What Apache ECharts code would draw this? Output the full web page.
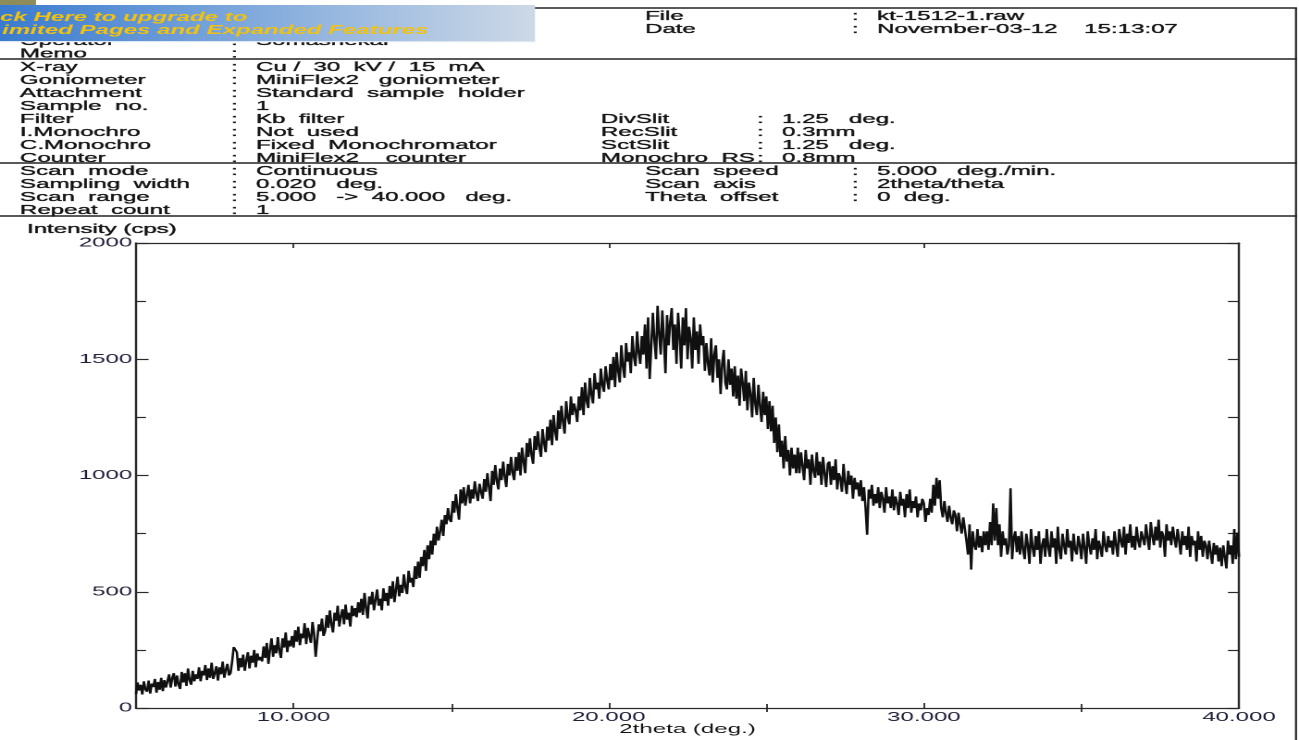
<!DOCTYPE html>
<html><head><meta charset="utf-8">
<script src="https://cdn.jsdelivr.net/npm/echarts@6/dist/echarts.min.js"></script>
<style>
html,body{margin:0;padding:0;background:#fff;overflow:hidden}
#wrap{width:1299px;height:740px;overflow:hidden;position:relative}
#c{width:702px;height:740px;transform:scaleX(1.850427);transform-origin:0 0}
</style></head>
<body><div id="wrap"><div id="c"></div></div>
<script>
// ---------------- data ----------------
const scanStart = 5;      // deg (2theta)
const scanStep = 0.05;    // deg per plotted reading
const intensity = [
 60,110,75,100,58,115,80,70,118,62,105,90,125,66,112,78,130,72,120,88,
 95,145,88,130,150,92,140,100,82,155,110,150,95,170,120,100,160,115,145,125,
 175,115,160,140,185,120,170,130,195,125,150,180,118,175,145,200,130,165,190,140,
 150,200,262,255,240,160,215,175,230,160,205,240,170,225,195,250,175,235,205,220,
 200,265,215,280,190,250,300,220,270,235,305,245,215,300,260,325,240,290,265,310,
 260,335,285,350,270,320,300,365,275,345,310,280,370,320,220,295,360,330,385,310,
 330,400,345,420,360,325,410,375,440,350,395,425,360,445,380,410,350,440,395,430,
 390,455,410,470,400,495,430,385,480,445,500,420,465,510,440,470,420,515,460,495,
 440,525,470,545,455,510,565,480,530,495,575,520,490,590,540,560,520,610,555,630,
 560,650,610,680,590,700,640,720,660,750,700,780,720,760,810,740,830,790,860,810,
 800,890,840,920,860,810,940,880,950,870,915,960,880,940,900,975,920,890,965,930,
 900,985,930,1010,950,890,1020,960,1045,975,940,1030,980,1060,995,950,1050,1000,1080,1010,
 980,1080,1020,1100,1000,1120,1060,1010,1140,1080,1160,1090,1050,1170,1110,1190,1120,1080,1200,1140,
 1100,1210,1150,1240,1130,1260,1190,1150,1280,1200,1300,1230,1180,1320,1250,1220,1340,1260,1310,1280,
 1230,1340,1280,1380,1260,1400,1320,1290,1420,1350,1310,1440,1370,1400,1330,1460,1390,1360,1470,1410,
 1370,1480,1410,1510,1380,1530,1450,1400,1560,1470,1420,1570,1490,1530,1440,1600,1510,1470,1620,1530,
 1480,1600,1520,1650,1460,1680,1415,1560,1700,1580,1500,1730,1610,1520,1710,1590,1440,1690,1560,1660,
 1720,1540,1650,1480,1700,1600,1460,1680,1560,1720,1500,1640,1590,1460,1680,1540,1620,1480,1650,1560,
 1600,1450,1570,1480,1430,1590,1400,1520,1560,1420,1500,1350,1480,1540,1400,1370,1500,1390,1460,1340,
 1470,1330,1430,1300,1460,1400,1320,1450,1280,1400,1350,1250,1420,1310,1260,1390,1300,1230,1360,1260,
 1340,1200,1320,1190,1300,1140,1250,1100,1220,1080,1150,1030,1170,1060,1110,1000,1120,1030,1090,1010,
 1120,1010,1100,1040,980,1110,1030,1070,960,1090,1020,990,1100,1000,1060,960,1080,1010,950,1050,
 1060,960,1040,980,1070,940,1010,990,930,1050,970,920,1020,960,1000,900,990,940,970,910,
 980,890,950,860,745,940,900,960,870,920,880,950,860,930,900,840,950,880,910,860,
 940,850,910,880,830,930,870,900,820,920,860,940,840,890,860,910,820,880,850,900,
 880,800,860,830,900,840,960,870,990,900,980,860,820,890,840,800,870,820,790,850,
 830,760,840,790,750,820,770,720,660,790,595,760,700,680,770,690,740,670,760,700,
 760,680,800,700,880,720,860,700,790,650,760,700,730,660,700,945,640,730,760,670,
 740,660,760,680,640,750,700,620,770,690,650,740,680,760,620,700,730,650,770,690,
 650,760,690,730,620,780,680,640,750,700,660,770,690,720,630,750,680,660,740,700,
 640,750,690,620,760,700,660,730,680,770,640,720,690,650,760,700,670,740,690,720,
 660,760,700,650,770,720,690,780,660,750,710,790,690,740,680,780,720,690,760,730,
 700,790,730,680,800,740,700,780,720,810,690,760,740,650,790,720,760,700,780,730,
 690,770,720,660,760,700,740,680,780,650,740,700,720,630,760,680,740,650,720,700,
 640,720,670,620,710,660,700,630,690,610,700,650,600,720,660,700,620,770,640,755,
 650
];
const xLabelTicks = [10, 20, 30, 40];
const xMinorTicks = [15, 25, 35];
const xTopTicks = [10, 20, 30];

const fileInfo = [['File', 'kt-1512-1.raw'], ['Date', 'November-03-12    15:13:07']];
const operatorInfo = [['Operator', 'Somashekar'], ['Memo', '']];
const instrumentInfo = [
  ['X-ray', 'Cu /  30  kV /  15  mA'],
  ['Goniometer', 'MiniFlex2   goniometer'],
  ['Attachment', 'Standard  sample  holder'],
  ['Sample  no.', '1'],
  ['Filter', 'Kb  filter'],
  ['I.Monochro', 'Not  used'],
  ['C.Monochro', 'Fixed  Monochromator'],
  ['Counter', 'MiniFlex2    counter']
];
const slitInfo = [['DivSlit', '1.25   deg.'], ['RecSlit', '0.3mm'], ['SctSlit', '1.25   deg.'], ['Monochro  RS', '0.8mm']];
const scanInfo = [['Scan  mode', 'Continuous'], ['Sampling  width', '0.020   deg.'], ['Scan  range', '5.000   ->  40.000   deg.'], ['Repeat  count', '1']];
const scanInfo2 = [['Scan  speed', '5.000   deg./min.'], ['Scan  axis', '2theta/theta'], ['Theta  offset', '0  deg.']];
const bannerLines = ['ck Here to upgrade to', 'imited Pages and Expanded Features'];
const yAxisTitle = 'Intensity (cps)';
const xAxisTitle = '2theta (deg.)';

// ---------------- layout ----------------
const S = 1299 / 702;               // horizontal stretch of the printout
const X = px => px / S;
const FF = '"Liberation Sans", Arial, Helvetica, sans-serif';
const FONT = '13px ' + FF;
const INK = '#141414';

const seriesData = intensity.map((v, i) => [+(scanStart + i * scanStep).toFixed(2), v]);

const graphics = [];
function txt(px, y, text) {
  graphics.push({
    type: 'text', x: X(px), y: y, silent: true, z: 10,
    style: { text: text, font: FONT, fill: INK, stroke: INK, lineWidth: 0.35,
             textVerticalAlign: 'middle', verticalAlign: 'middle' }
  });
}
function block(rows, xl, xc, xv, y0, dy) {
  rows.forEach((r, i) => {
    const y = y0 + i * dy;
    txt(xl, y, r[0]); txt(xc, y, ':'); if (r[1]) txt(xv, y, r[1]);
  });
}
block(fileInfo, 645, 852, 877, 16.5, 13);
block(operatorInfo, 20, 231, 256, 41.5, 12.5);
block(instrumentInfo, 20, 231, 256, 67.5, 13);
block(slitInfo, 601, 757, 782, 119.5, 13);
block(scanInfo, 20, 231, 256, 171.5, 13);
block(scanInfo2, 645, 852, 877, 171.5, 13);
txt(27, 229.5, yAxisTitle);

[8, 59, 163, 216].forEach(y => graphics.push({
  type: 'line', silent: true, z: 5,
  shape: { x1: 0, y1: y, x2: X(1297), y2: y },
  style: { stroke: '#222', lineWidth: 1.6 }
}));
graphics.push({ type: 'line', silent: true, z: 5,
  shape: { x1: X(1296), y1: 8, x2: X(1296), y2: 740 },
  style: { stroke: '#222', lineWidth: 1.1 } });

// PDF banner overlay
graphics.push({ type: 'rect', silent: true, z: 100,
  shape: { x: 0, y: 5, width: X(535), height: 37 },
  style: { fill: new echarts.graphic.LinearGradient(0, 0, 1, 0, [
    { offset: 0, color: '#3a7bd0' }, { offset: 0.45, color: '#7ea8dc' }, { offset: 1, color: '#cdd9e7' }]) } });
graphics.push({ type: 'rect', silent: true, z: 101,
  shape: { x: 0, y: 41, width: X(535), height: 1.2 }, style: { fill: '#dfe8f2' } });
graphics.push({ type: 'rect', silent: true, z: 101,
  shape: { x: 0, y: 0, width: X(36), height: 5 }, style: { fill: '#8e8c5a' } });
bannerLines.forEach((t, i) => graphics.push({
  type: 'text', silent: true, z: 102, x: X(i === 0 ? 0 : 2), y: 17.5 + i * 13,
  style: { text: t, font: 'italic bold 13px ' + FF, fill: '#f3c20f', textVerticalAlign: 'middle', verticalAlign: 'middle' }
}));

const axisLineStyle = { color: '#2a2a2a', width: 1.3 };
const labelStyle = { fontSize: 13, fontFamily: FF, color: '#1e1e38' };

const chart = echarts.init(document.getElementById('c'), null, { renderer: 'canvas', devicePixelRatio: 2 });
chart.setOption({
  animation: false,
  backgroundColor: '#fff',
  grid: { left: X(136), right: 702 - X(1239), top: 243, bottom: 32, containLabel: false, outerBoundsMode: 'none' },
  xAxis: [
    { type: 'value', min: 5, max: 40, interval: 5, position: 'bottom',
      axisLine: { show: true, onZero: false, lineStyle: axisLineStyle },
      axisTick: { show: true, inside: true, length: 5, customValues: xLabelTicks, lineStyle: { color: '#2a2a2a', width: 0.9 } },
      axisLabel: { show: true, customValues: xLabelTicks, formatter: v => Number(v).toFixed(3), margin: 3, ...labelStyle },
      splitLine: { show: false },
      name: xAxisTitle, nameLocation: 'middle', nameGap: 15, nameMoveOverlap: false,
      nameTextStyle: { fontSize: 13, fontFamily: FF, color: INK } },
    { type: 'value', min: 5, max: 40, interval: 5, position: 'bottom',
      axisLine: { show: false },
      axisTick: { show: true, inside: true, length: 4, customValues: xMinorTicks, lineStyle: { color: '#2a2a2a', width: 0.9 } },
      axisLabel: { show: false }, splitLine: { show: false } },
    { type: 'value', min: 5, max: 40, interval: 5, position: 'top',
      axisLine: { show: true, onZero: false, lineStyle: axisLineStyle },
      axisTick: { show: true, inside: true, length: 5, customValues: xTopTicks, lineStyle: { color: '#2a2a2a', width: 0.9 } },
      axisLabel: { show: false }, splitLine: { show: false } },
    { type: 'value', min: 5, max: 40, interval: 5, position: 'top',
      axisLine: { show: false },
      axisTick: { show: true, inside: true, length: 4, customValues: xMinorTicks, lineStyle: { color: '#2a2a2a', width: 0.9 } },
      axisLabel: { show: false }, splitLine: { show: false } }
  ],
  yAxis: [
    { type: 'value', min: 0, max: 2000, interval: 500, position: 'left',
      axisLine: { show: true, onZero: false, lineStyle: { color: '#2a2a2a', width: 1.2 } },
      axisTick: { show: true, inside: true, length: 6.8, lineStyle: { color: '#2a2a2a', width: 1.2 } },
      minorTick: { show: true, splitNumber: 2, length: 5.4, lineStyle: { color: '#2a2a2a', width: 1.2 } },
      axisLabel: { show: true, margin: 2, formatter: v => String(v), ...labelStyle },
      splitLine: { show: false }, minorSplitLine: { show: false } },
    { type: 'value', min: 0, max: 2000, interval: 250, position: 'right',
      axisLine: { show: true, onZero: false, lineStyle: { color: '#2a2a2a', width: 1.2 } },
      axisTick: { show: true, inside: true, length: 6, lineStyle: { color: '#2a2a2a', width: 1.2 } },
      axisLabel: { show: false }, splitLine: { show: false } }
  ],
  series: [{
    type: 'line', xAxisIndex: 0, yAxisIndex: 0, data: seriesData,
    showSymbol: false, symbol: 'none', sampling: null, clip: true,
    lineStyle: { color: '#101010', width: 1.3 }
  }],
  graphic: { elements: graphics }
});
</script>
</body></html>
